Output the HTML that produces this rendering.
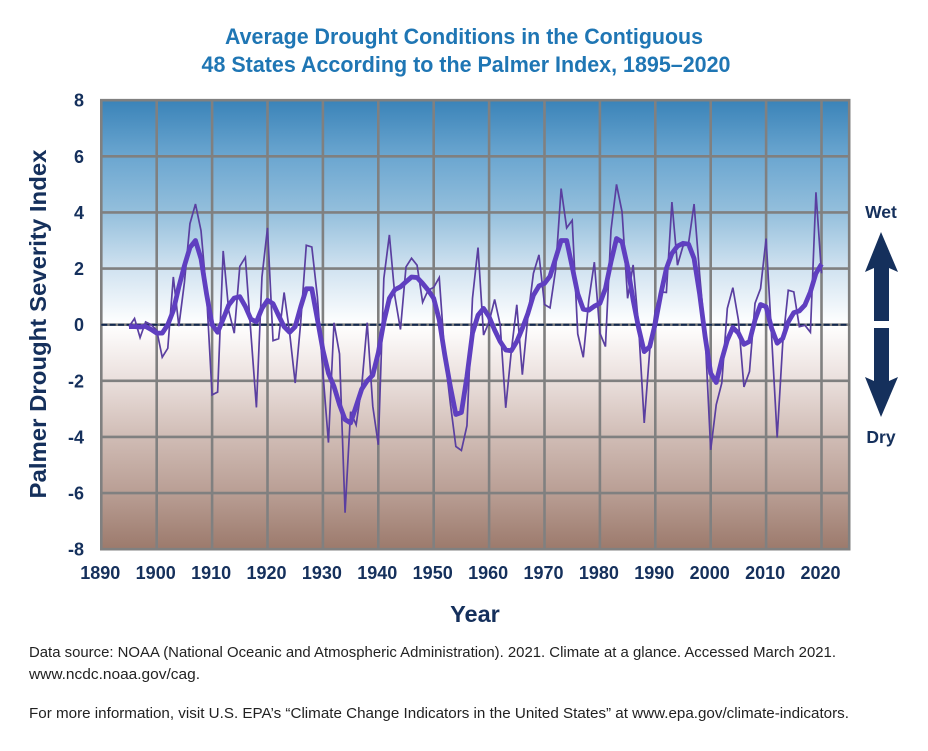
<!DOCTYPE html>
<html lang="en">
<head>
<meta charset="utf-8">
<title>Average Drought Conditions</title>
<style>
html,body{margin:0;padding:0;background:#fff;width:928px;height:751px;overflow:hidden}
svg{display:block;font-family:"Liberation Sans",sans-serif}
</style>
</head>
<body>
<svg id="chart" width="928" height="751" viewBox="0 0 928 751" xmlns="http://www.w3.org/2000/svg">
<defs>
<linearGradient id="bg" x1="0" y1="0" x2="0" y2="1">
<stop offset="0" stop-color="#3a83b8"/>
<stop offset="0.125" stop-color="#6ba6d0"/>
<stop offset="0.25" stop-color="#94bfdc"/>
<stop offset="0.375" stop-color="#d0e2f0"/>
<stop offset="0.5" stop-color="#ffffff"/>
<stop offset="0.625" stop-color="#eadfdc"/>
<stop offset="0.75" stop-color="#d0bcb5"/>
<stop offset="0.875" stop-color="#b99e94"/>
<stop offset="1" stop-color="#9c7a6c"/>
</linearGradient>
</defs>
<text x="464" y="44" text-anchor="middle" font-size="22" font-weight="700" fill="#1f76b4" textLength="478" lengthAdjust="spacingAndGlyphs">Average Drought Conditions in the Contiguous</text>
<text x="466" y="72" text-anchor="middle" font-size="22" font-weight="700" fill="#1f76b4" textLength="529" lengthAdjust="spacingAndGlyphs">48 States According to the Palmer Index, 1895–2020</text>
<rect id="plot-bg" x="101" y="100" width="748" height="449" fill="url(#bg)"/>
<g id="grid"></g>
<g id="xticks"></g>
<g id="yticks"></g>
<line id="zero" stroke="#12294f" stroke-width="2" stroke-dasharray="6 2.4"/>
<polyline id="annual" fill="none" stroke="#5a3fa0" stroke-width="1.7" stroke-linejoin="miter"/>
<polyline id="smooth" fill="none" stroke="#5f3fc0" stroke-width="4.8" stroke-linejoin="round"/>
<text transform="translate(46,324) rotate(-90)" text-anchor="middle" font-size="23" font-weight="700" fill="#15305c" textLength="349" lengthAdjust="spacingAndGlyphs">Palmer Drought Severity Index</text>
<text x="475" y="622" text-anchor="middle" font-size="23.5" font-weight="700" fill="#15305c">Year</text>
<text x="881" y="218" text-anchor="middle" font-size="17.5" font-weight="700" fill="#15305c">Wet</text>
<polygon fill="#15305c" points="881,232 898,272 889,268 889,321 874,321 874,268 865,272"/>
<polygon fill="#15305c" points="874,328 889,328 889,381 898,377 881,417 865,377 874,381"/>
<text x="881" y="443" text-anchor="middle" font-size="17.5" font-weight="700" fill="#15305c">Dry</text>
<text x="29" y="657" font-size="15" fill="#222" textLength="807" lengthAdjust="spacingAndGlyphs">Data source: NOAA (National Oceanic and Atmospheric Administration). 2021. Climate at a glance. Accessed March 2021.</text>
<text x="29" y="679" font-size="15" fill="#222" textLength="171" lengthAdjust="spacingAndGlyphs">www.ncdc.noaa.gov/cag.</text>
<text x="29" y="718" font-size="15" fill="#222" textLength="820" lengthAdjust="spacingAndGlyphs">For more information, visit U.S. EPA’s “Climate Change Indicators in the United States” at www.epa.gov/climate-indicators.</text>
</svg>
<script>
const firstYear = 1895;
const xTicks = [1890,1900,1910,1920,1930,1940,1950,1960,1970,1980,1990,2000,2010,2020];
const yTicks = [8,6,4,2,0,-2,-4,-6,-8];
const annualValues = [
-0.07,0.22,-0.46,0.10,0.00,-0.20,-1.16,-0.84,1.70,-0.05,
1.50,3.60,4.30,3.35,1.10,-2.50,-2.40,2.63,0.50,-0.30,
2.08,2.40,-0.30,-2.95,1.70,3.45,-0.57,-0.50,1.15,-0.30,
-2.08,0.10,2.83,2.77,1.00,-1.70,-4.20,0.07,-1.04,-6.70,
-3.10,-3.57,-2.20,0.07,-2.90,-4.28,1.65,3.20,1.00,-0.17,
2.06,2.37,2.12,0.80,1.23,1.33,1.68,-1.10,-2.80,-4.34,
-4.48,-3.60,0.94,2.75,-0.37,0.10,0.90,0.00,-2.96,-0.96,
0.71,-1.78,0.28,1.83,2.49,0.72,0.60,1.95,4.85,3.45,
3.72,-0.33,-1.16,0.88,2.23,-0.30,-0.78,3.37,5.00,4.02,
0.94,2.13,-0.10,-3.50,-0.90,0.50,1.17,1.15,4.37,2.12,
2.80,2.90,4.30,1.80,-0.40,-4.46,-2.85,-2.08,0.58,1.32,
0.17,-2.22,-1.67,0.76,1.29,3.07,-0.43,-4.02,-0.66,1.23,
1.17,-0.07,-0.02,-0.27,4.72,1.83];
const smoothValues = [
-0.07,-0.07,-0.08,-0.06,-0.17,-0.30,-0.30,0.00,0.50,1.35,
2.10,2.75,3.00,2.35,1.10,0.00,-0.27,0.20,0.70,0.95,
1.00,0.65,0.20,0.10,0.58,0.87,0.75,0.33,-0.07,-0.27,
-0.07,0.64,1.28,1.28,0.20,-0.90,-1.73,-2.20,-2.85,-3.38,
-3.50,-2.90,-2.30,-2.00,-1.80,-1.00,0.10,0.94,1.25,1.35,
1.53,1.70,1.68,1.47,1.23,0.94,0.17,-1.08,-2.20,-3.20,
-3.13,-1.85,-0.30,0.34,0.58,0.28,-0.19,-0.60,-0.90,-0.93,
-0.60,-0.13,0.40,1.05,1.38,1.47,1.73,2.36,3.00,3.00,
2.06,1.10,0.55,0.52,0.66,0.76,1.29,2.24,3.07,2.95,
2.06,0.88,-0.13,-0.96,-0.78,0.05,1.10,2.00,2.54,2.80,
2.90,2.87,2.36,1.10,-0.43,-1.73,-2.06,-1.25,-0.55,-0.10,
-0.30,-0.70,-0.60,0.17,0.72,0.64,-0.13,-0.66,-0.49,0.10,
0.43,0.49,0.70,1.17,1.83,2.16];

const NS = 'http://www.w3.org/2000/svg';
const xLeft = 101.3, xPerYear = 5.54;
const yZero = 324.7, yPerUnit = 28.06;
const xScale = function (yr) { return xLeft + (yr - 1890) * xPerYear; };
const yScale = function (v) { return yZero - v * yPerUnit; };
const xMaxYear = 2025;

function make(tag, attrs, parent, text) {
  const el = document.createElementNS(NS, tag);
  for (const k in attrs) el.setAttribute(k, attrs[k]);
  if (text !== undefined) el.textContent = text;
  parent.appendChild(el);
  return el;
}
const grid = document.getElementById('grid');
const xG = document.getElementById('xticks');
const yG = document.getElementById('yticks');
const tickStyle = {fill:'#15305c','font-size':'18','font-weight':'700'};

xTicks.concat([xMaxYear]).forEach(function (t) {
  const ln = make('line', {x1:xScale(t), x2:xScale(t), y1:yScale(8), y2:yScale(-8), stroke:'#808080', 'stroke-width':2.6}, grid);
  
  
});
yTicks.forEach(function (t) {
  const ln = make('line', {x1:xScale(1890)-1.3, x2:xScale(xMaxYear)+1.3, y1:yScale(t), y2:yScale(t), stroke:'#808080', 'stroke-width':2.6}, grid);
  
  
  const lb = make('text', Object.assign({x:84, y:yScale(t)+6.5, 'text-anchor':'end'}, tickStyle), yG, String(t));
  
  
});
xTicks.forEach(function (t) {
  const lb = make('text', Object.assign({x:xScale(t)-1, y:579, 'text-anchor':'middle'}, tickStyle), xG, String(t));
  
  
});
const zero = document.getElementById('zero');
zero.setAttribute('x1', xScale(1890));
zero.setAttribute('x2', xScale(xMaxYear));
zero.setAttribute('y1', yScale(0));
zero.setAttribute('y2', yScale(0));
function pts(vals) {
  return vals.map(function (v, i) { return xScale(firstYear + i).toFixed(2) + ',' + yScale(v).toFixed(2); }).join(' ');
}
document.getElementById('annual').setAttribute('points', pts(annualValues));
document.getElementById('smooth').setAttribute('points', pts(smoothValues));
</script>
</body>
</html>
